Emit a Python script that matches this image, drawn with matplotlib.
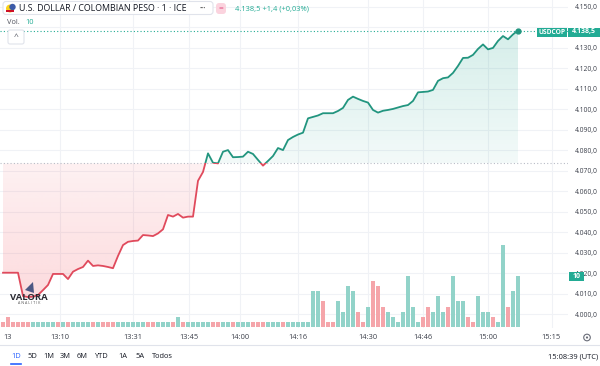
import numpy as np
import matplotlib.pyplot as plt
from matplotlib.path import Path
from matplotlib.patches import Rectangle, FancyBboxPatch, Circle, Polygon

# close price per 1-minute bar (USD/COP, ICE)
price = np.array([
    4020.2, 4020.2, 4020.2, 4020.2, 4008.8, 4008.3, 4008.5, 4009.3, 4011.7, 4014.2,
    4019.6, 4019.6, 4019.6, 4017.1, 4020.7, 4022.0, 4023.0, 4026.1, 4023.5, 4023.8,
    4023.5, 4023.0, 4022.4, 4028.4, 4033.7, 4035.3, 4035.7, 4035.9, 4038.6, 4038.4,
    4038.1, 4039.4, 4041.4, 4048.4, 4047.6, 4048.9, 4047.1, 4047.6, 4047.6, 4065.1,
    4069.4, 4078.5, 4073.9, 4073.6, 4079.3, 4080.1, 4076.6, 4076.7, 4076.9, 4079.3,
    4078.2, 4075.3, 4072.5, 4074.8, 4077.2, 4081.1, 4080.1, 4085.0, 4086.5, 4087.7,
    4088.6, 4095.6, 4096.3, 4097.0, 4098.1, 4098.1, 4098.1, 4099.2, 4100.7, 4104.6,
    4106.2, 4105.1, 4104.1, 4103.3, 4099.7, 4098.4, 4099.3, 4099.7, 4100.2, 4100.9,
    4101.6, 4102.1, 4104.1, 4108.3, 4108.5, 4108.7, 4109.5, 4113.9, 4115.2, 4115.6,
    4117.8, 4121.2, 4125.1, 4125.2, 4126.6, 4129.5, 4131.7, 4129.3, 4130.0, 4133.4,
    4135.8, 4134.2, 4136.6, 4138.5,
])

volume = np.array([
    1, 2, 1, 1, 1, 1, 1, 1, 1, 1,
    1, 1, 1, 1, 1, 1, 1, 1, 1, 1,
    1, 1, 1, 1, 1, 1, 1, 1, 1, 1,
    1, 1, 1, 1, 1, 2, 1, 1, 1, 1,
    1, 1, 1, 1, 1, 1, 1, 1, 1, 1,
    1, 1, 1, 1, 1, 1, 1, 1, 1, 1,
    1, 1, 7, 7, 5, 1, 1, 5, 3, 8,
    7, 3, 1, 4, 9, 8, 4, 3, 2, 1,
    3, 10, 4, 1, 2, 4, 3, 6, 3, 4,
    10, 5, 5, 2, 1, 6, 3, 3, 2, 1,
    16, 4, 7, 10,
])

# 1 = up bar, 0 = down bar
vol_up = np.array([
    0, 0, 0, 0, 0, 0, 1, 1, 1, 1,
    1, 0, 1, 0, 1, 1, 1, 1, 0, 1,
    0, 0, 0, 1, 1, 1, 1, 1, 1, 0,
    0, 1, 1, 1, 0, 1, 0, 1, 1, 1,
    1, 1, 0, 0, 1, 1, 0, 1, 1, 1,
    0, 0, 0, 1, 1, 1, 0, 1, 1, 1,
    1, 1, 1, 1, 0, 0, 0, 1, 1, 1,
    1, 0, 0, 1, 0, 0, 0, 1, 1, 1,
    1, 1, 1, 1, 0, 0, 1, 1, 1, 0,
    1, 1, 1, 0, 0, 1, 1, 1, 0, 1,
    1, 0, 1, 1,
])

time_pos = [1, 11.3, 25.9, 37.1, 47.3, 58.9, 72.9, 83.9, 96.9, 109.7]
time_labels = ['13', '13:10', '13:31', '13:45', '14:00', '14:16', '14:30',
               '14:46', '15:00', '15:15']
price_ticks = np.arange(4000, 4151, 10)

BASE = 4073.6
LAST = 4138.5
LAST_VOL = 10
ranges = ['1D', '5D', '1M', '3M', '6M', 'YTD', '1A', '5A', 'Todos']

UP = '#22957f'
DOWN = '#e04a5c'
VOL_UP = '#92d3c9'
VOL_DOWN = '#f5a5aa'
TAG = '#22ab94'
GRID = '#f0f2f6'
TXT = '#131722'


def fmt_price(v):
    s = f"{v:,.1f}"
    return s.replace(',', 'X').replace('.', ',').replace('X', '.')


plt.rcParams['font.family'] = ['Open Sans', 'DejaVu Sans']

W, H = 600, 366
fig = plt.figure(figsize=(6, 3.66), dpi=100)
fig.patch.set_facecolor('white')

pane_r, pane_b = 568, 328
rect = [0, (H - pane_b) / H, pane_r / W, pane_b / H]
ax = fig.add_axes(rect)
idx = np.arange(len(price))
xmin, xmax = -0.6, 113
ymin, ymax = 3993.2, 4153.4

# horizontal / vertical grid
for p in price_ticks:
    ax.axhline(p, color=GRID, lw=0.8, zorder=0)
for t in time_pos[1:]:
    ax.axvline(t, color=GRID, lw=0.8, zorder=0)


# gradient fills above / below the baseline
def grad_fill(mask, rgb, y0, y1, a0, a1):
    coll = ax.fill_between(idx, price, BASE, where=mask, interpolate=True,
                           facecolor='none', edgecolor='none')
    clip = Path.make_compound_path(*coll.get_paths())
    img = np.zeros((256, 1, 4))
    img[..., :3] = rgb
    img[..., 3] = np.linspace(a0, a1, 256)[:, None]
    im = ax.imshow(img, extent=[idx[0], idx[-1], y0, y1], origin='lower',
                   aspect='auto', zorder=1, interpolation='bilinear')
    im.set_clip_path(clip, transform=ax.transData)


grad_fill(price >= BASE, (8 / 255, 153 / 255, 129 / 255), BASE, LAST, 0.05, 0.17)
grad_fill(price <= BASE, (242 / 255, 54 / 255, 69 / 255), 4008.0, BASE, 0.18, 0.07)

# line coloured by side of baseline
line_up, = ax.plot(idx, price, color=UP, lw=1.3, zorder=3, solid_joinstyle='round')
line_dn, = ax.plot(idx, price, color=DOWN, lw=1.3, zorder=3, solid_joinstyle='round')
line_up.set_clip_path(Rectangle((xmin, BASE), xmax - xmin, ymax - BASE,
                                transform=ax.transData))
line_dn.set_clip_path(Rectangle((xmin, ymin), xmax - xmin, BASE - ymin,
                                transform=ax.transData))
ax.plot(idx[-1], price[-1], 'o', color=UP, ms=3.5, zorder=4)

ax.axhline(BASE, color='#b8bcc6', lw=0.8, ls=(0, (1, 2)), zorder=2)
ax.axhline(LAST, color=TAG, lw=0.8, ls=(0, (1, 2)), zorder=2)

ax.set_xlim(xmin, xmax)
ax.set_ylim(ymin, ymax)
ax.set_xticks(time_pos)
ax.set_xticklabels(time_labels)
ax.yaxis.tick_right()
ax.set_yticks(price_ticks)
# the 4.140 label sits under the last-price tag
ax.set_yticklabels(['' if p == 4140 else fmt_price(p) for p in price_ticks])
ax.tick_params(axis='both', length=0, labelcolor='#3b3f4a')
ax.tick_params(axis='x', pad=4, labelsize=5.4)
ax.tick_params(axis='y', pad=5, labelsize=4.9)
for s in ax.spines.values():
    s.set_visible(False)

# volume pane (own scale, same x)
axv = fig.add_axes(rect, sharex=ax)
axv.patch.set_alpha(0)
colors = [VOL_UP if u else VOL_DOWN for u in vol_up]
axv.bar(idx, volume, width=0.82, color=colors, zorder=2)
axv.set_ylim(-0.2, 64)
axv.set_yticks([])
axv.tick_params(axis='x', bottom=False, labelbottom=False)
for s in axv.spines.values():
    s.set_visible(False)

# overlay in pixel coordinates for the UI chrome
ui = fig.add_axes([0, 0, 1, 1])
ui.set_xlim(0, W)
ui.set_ylim(H, 0)
ui.axis('off')
ui.patch.set_alpha(0)

# header
ui.add_patch(FancyBboxPatch((3, 1.5), 210, 13, boxstyle='round,pad=0,rounding_size=3',
                            fc='white', ec='#e0e3eb', lw=0.8))
ui.add_patch(Circle((10, 8.5), 4, fc='#fcd116', ec='none'))
ui.add_patch(Circle((12.5, 7), 3.2, fc='#3c5ba8', ec='none'))
ui.add_patch(Rectangle((6, 10), 8, 1.5, fc='#ce1126', ec='none'))
ui.text(19, 8.5, 'U.S. DOLLAR / COLOMBIAN PESO · 1 · ICE', fontsize=6.4,
        color=TXT, va='center', ha='left')
ui.text(203, 8.5, '•••', fontsize=4, color='#555', va='center', ha='center')
ui.add_patch(FancyBboxPatch((216, 3), 10, 11, boxstyle='round,pad=0,rounding_size=3',
                            fc='#fbd3de', ec='none'))
ui.text(221, 8.5, '=', fontsize=6, color='#e0457b', va='center', ha='center')
ui.text(235, 8.5, fmt_price(LAST) + ' +1,4 (+0,03%)', fontsize=5.4,
        color=TAG, va='center', ha='left')
ui.text(7, 22.5, 'Vol.', fontsize=5.4, color='#50535e', va='center', ha='left')
ui.text(25, 22.5, str(LAST_VOL), fontsize=5.4, color=TAG, va='center', ha='left')
ui.add_patch(FancyBboxPatch((8, 30), 16, 14, boxstyle='round,pad=0,rounding_size=2',
                            fc='white', ec='#e0e3eb', lw=0.8))
ui.text(16, 37.5, '^', fontsize=6, color='#50535e', va='center', ha='center')

# price scale tags
ui.add_patch(Rectangle((537, 27.5), 30, 9, fc=TAG, ec='none'))
ui.text(552, 32, 'USDCOP', fontsize=4.8, color='white', va='center', ha='center',
        fontweight='bold')
ui.add_patch(Rectangle((568, 27.5), 32, 9, fc=TAG, ec='none'))
ui.text(584, 32, fmt_price(LAST), fontsize=5.0, color='white', va='center',
        ha='center', fontweight='bold')
ui.add_patch(Rectangle((569, 272), 15, 9, fc=TAG, ec='none'))
ui.text(576.5, 276.5, str(LAST_VOL), fontsize=5, color='white', va='center',
        ha='center', fontweight='bold')

# watermark
ui.add_patch(Polygon([[25, 290], [33, 282], [34, 293]], closed=True,
                     fc='#3a4a7a', ec='none', alpha=0.9))
ui.text(29, 297.5, 'VALORA', fontsize=6.8, color='#2b2b33', va='center',
        ha='center', fontweight='bold')
ui.text(29, 303.5, 'A N A L I T I K', fontsize=2.6, color='#555', va='center',
        ha='center')

# gear icon
ui.add_patch(Circle((587, 337.5), 3.3, fc='none', ec='#6a6d78', lw=0.8))
ui.add_patch(Circle((587, 337.5), 1.1, fc='#6a6d78', ec='none'))

# bottom toolbar
ui.plot([0, W], [345, 345], color='#e0e3eb', lw=0.8)
xs = [16, 32, 49, 65, 82, 101, 123, 140, 162]
for x, r in zip(xs, ranges):
    ui.text(x, 357, r, fontsize=5.4, color='#2962ff' if r == '1D' else TXT,
            va='center', ha='center')
ui.plot([11, 21], [364, 364], color='#2962ff', lw=1.2)
ui.text(598, 357, '15:08:39 (UTC)', fontsize=5.4, color=TXT, va='center', ha='right')

fig.savefig('out.png', dpi=100)
